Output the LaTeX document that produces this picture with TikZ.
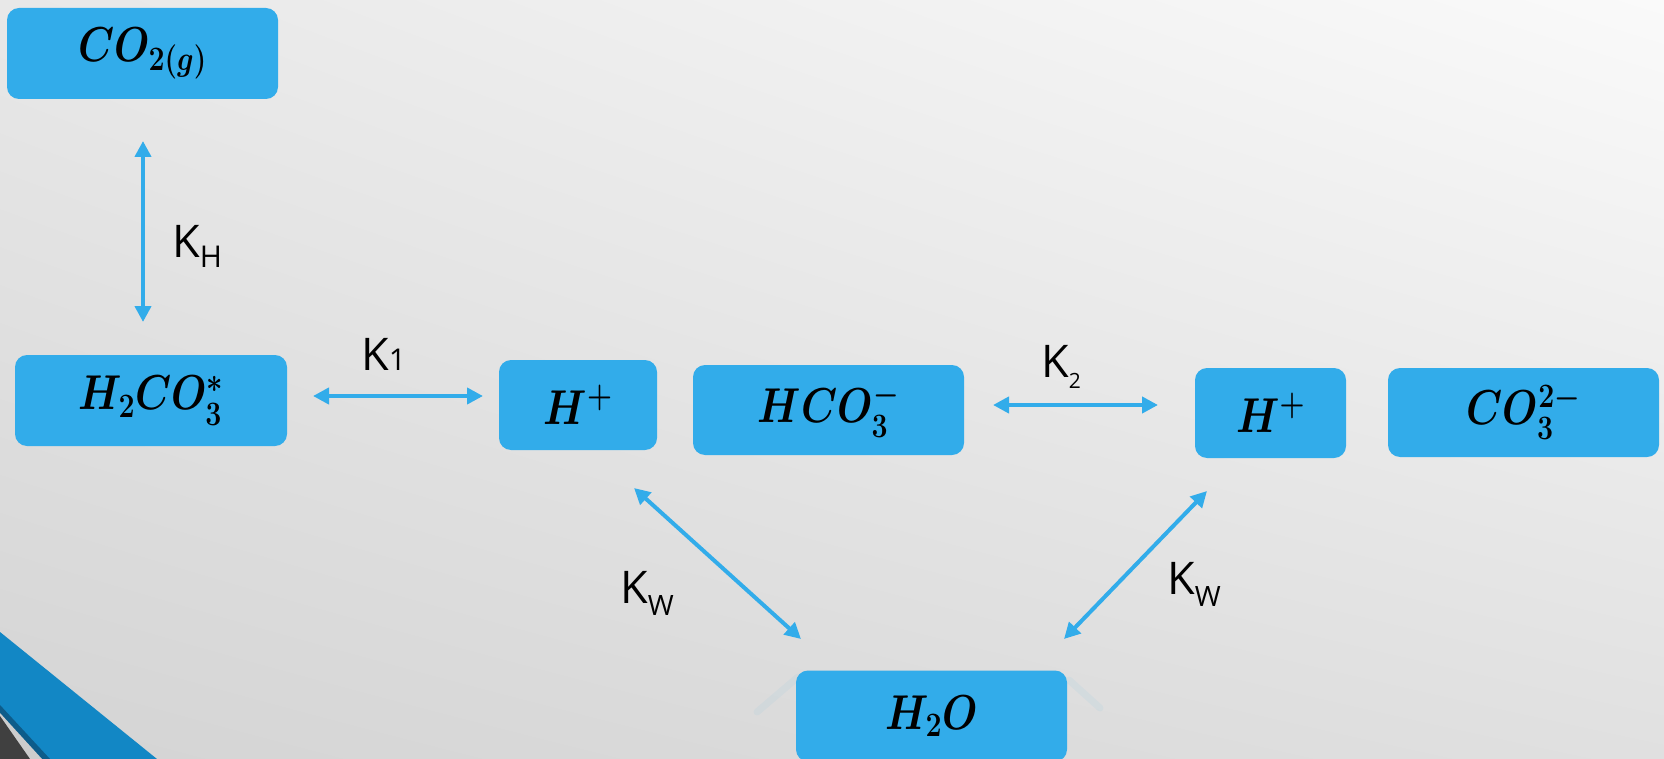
\RequirePackage{fix-cm}
\documentclass[tikz,border=0pt]{standalone}
\usepackage{amsmath}
\usepackage{graphicx}
\usepackage{fontspec}
\newfontfamily\lblfont{Open Sans}
\usetikzlibrary{arrows.meta,shadings}
\definecolor{boxblue}{RGB}{50,172,234}
\definecolor{cornerblue}{RGB}{18,135,197}
\definecolor{cornerdark}{RGB}{13,92,138}
\definecolor{cornergap}{RGB}{205,205,205}
\definecolor{cornergray}{RGB}{64,64,64}
\definecolor{bgUL}{RGB}{232,232,232}
\definecolor{bgUR}{RGB}{250,250,250}
\definecolor{bgLL}{RGB}{212,212,212}
\definecolor{bgLR}{RGB}{224,224,224}
\newcommand{\chem}[1]{\scalebox{0.85}[1.02]{$#1$}}
\begin{document}
\begin{tikzpicture}[x=1pt,y=-1pt,
  species/.style={fill=boxblue, rounded corners=12pt, inner sep=0pt,
    font=\fontsize{48}{50}\selectfont\boldmath},
  eqarrow/.style={draw=boxblue, line width=4pt,
    {Triangle[length=16pt,width=16pt]}-{Triangle[length=16pt,width=16pt]}},
  klabel/.style={anchor=base west, inner sep=0pt, text=black,
    font=\lblfont\fontsize{45}{47}\selectfont}]
\useasboundingbox (0,0) rectangle (1664,759);
\shade[upper left=bgUL, upper right=bgUR, lower left=bgLL, lower right=bgLR]
  (0,0) rectangle (1664,759);
% corner decoration
\fill[cornerblue] (0,632) -- (157,759) -- (0,759) -- cycle;
\fill[cornerdark] (0,705) -- (50,759) -- (0,759) -- cycle;
\fill[cornergap] (0,713) -- (42,759) -- (0,759) -- cycle;
\fill[cornergray] (0,716) -- (30,759) -- (0,759) -- cycle;
% faint reflections near H2O
\draw[boxblue, line width=7pt, opacity=0.06, line cap=round] (798,677) -- (757,712);
\draw[boxblue, line width=7pt, opacity=0.06, line cap=round] (1069,680) -- (1100,708);
% species boxes
\node[species, minimum width=271pt, minimum height=91pt] (co2) at (142.5,53.5) {\chem{CO_{2(g)}}};
\node[species, minimum width=272pt, minimum height=91pt] (h2co3) at (151,400.5) {\chem{H_2CO_3^*}};
\node[species, minimum width=158pt, minimum height=90pt] (hp1) at (578,405) {\chem{H^+}};
\node[species, minimum width=271pt, minimum height=90pt] (hco3) at (828.5,410) {\chem{HCO_3^-}};
\node[species, minimum width=151pt, minimum height=90pt] (hp2) at (1270.5,413) {\chem{H^+}};
\node[species, minimum width=271pt, minimum height=89pt] (co3) at (1523.5,412.5) {\chem{CO_3^{2-}}};
\node[species, minimum width=271pt, minimum height=91pt] (h2o) at (931.5,716) {\chem{H_2O}};
% arrow end points
\coordinate (kha) at (143,141);
\coordinate (khb) at (143,322);
\coordinate (k1a) at (313,396);
\coordinate (k1b) at (483,396);
\coordinate (k2a) at (993,405);
\coordinate (k2b) at (1158,405);
\coordinate (kwla) at (634,488);
\coordinate (kwlb) at (801,639);
\coordinate (kwra) at (1207,491);
\coordinate (kwrb) at (1064,639);
\draw[eqarrow] (kha) -- (khb);
\draw[eqarrow] (k1a) -- (k1b);
\draw[eqarrow] (k2a) -- (k2b);
\draw[eqarrow] (kwla) -- (kwlb);
\draw[eqarrow] (kwra) -- (kwrb);
% labels
\node[klabel] (lkh) at (172,258) {K\raisebox{-10pt}{\fontsize{30}{30}\selectfont H}};
\node[klabel] (lk1) at (361,370) {K{\fontsize{30}{30}\selectfont 1}};
\node[klabel] (lk2) at (1041,377) {K\raisebox{-11pt}{\fontsize{21}{21}\selectfont 2}};
\node[klabel] (lkwl) at (620,603) {K\raisebox{-12pt}{\fontsize{28}{28}\selectfont W}};
\node[klabel] (lkwr) at (1167,594) {K\raisebox{-12pt}{\fontsize{28}{28}\selectfont W}};
\end{tikzpicture}
\end{document}
